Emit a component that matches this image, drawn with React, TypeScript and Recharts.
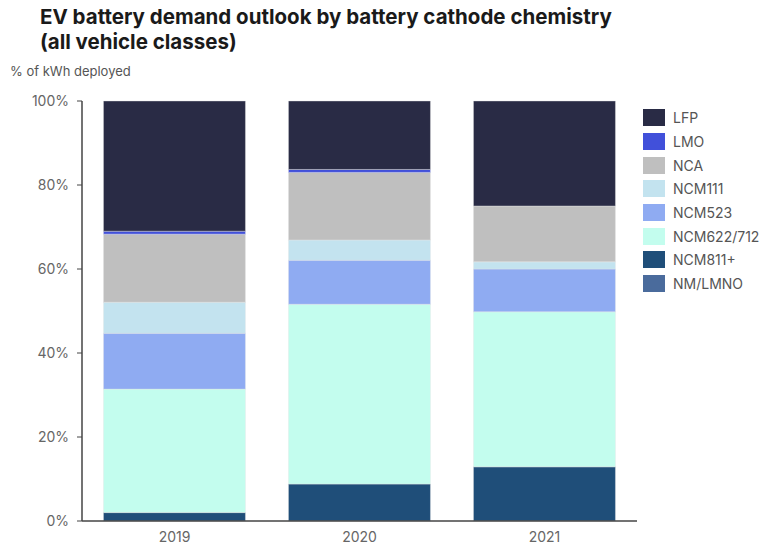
import React from 'react';
import { BarChart, Bar, XAxis, YAxis } from 'recharts';

const years = ['2019', '2020', '2021'];
const LFP = [31.0, 16.3, 25.0];
const LMO = [0.7, 0.7, 0];
const NCA = [16.2, 16.1, 13.3];
const NCM111 = [7.4, 4.8, 1.7];
const NCM523 = [13.3, 10.5, 10.2];
const NCM622 = [29.4, 42.8, 36.9];
const NCM811 = [2.0, 8.8, 12.9];
const NMLMNO = [0, 0, 0];
const yTicks = [0, 20, 40, 60, 80, 100];

const seriesOrder = [
  { key: 'NM/LMNO', values: NMLMNO, color: '#4A6B9C' },
  { key: 'NCM811+', values: NCM811, color: '#1F4E79' },
  { key: 'NCM622/712', values: NCM622, color: '#C3FDEE' },
  { key: 'NCM523', values: NCM523, color: '#8FABF2' },
  { key: 'NCM111', values: NCM111, color: '#C3E3EF' },
  { key: 'NCA', values: NCA, color: '#BFBFBF' },
  { key: 'LMO', values: LMO, color: '#4150DA' },
  { key: 'LFP', values: LFP, color: '#292B45' },
];

const data = years.map((y, i) => {
  const row: any = { year: y };
  seriesOrder.forEach((s) => (row[s.key] = s.values[i]));
  return row;
});

const FONT = 'Inter, "Open Sans", sans-serif';

const LegendBlock = () => {
  const items = [...seriesOrder].reverse();
  return (
    <div style={{ position: 'absolute', left: 643, top: 106, fontFamily: FONT }}>
      {items.map((s) => (
        <div key={s.key} style={{ display: 'flex', alignItems: 'center', height: 23.7 }}>
          <div style={{ width: 22, height: 17, background: s.color, marginRight: 8 }} />
          <span style={{ fontSize: 14, color: '#555' }}>{s.key}</span>
        </div>
      ))}
    </div>
  );
};

export default function App() {
  return (
    <div style={{ position: 'absolute', left: 0, top: 0, width: 774, height: 544, background: '#fff' }}>
      <BarChart
        width={774}
        height={544}
        data={data}
        margin={{ top: 101, right: 137, bottom: 0, left: 0 }}
        barCategoryGap="11.6%"
      >
        <XAxis
          dataKey="year"
          height={23}
          tickLine={false}
          axisLine={{ stroke: '#444', strokeWidth: 1.5 }}
          tick={{ fill: '#666', fontSize: 14, fontFamily: FONT }}
          tickMargin={5}
        />
        <YAxis
          width={82}
          domain={[0, 100]}
          ticks={yTicks}
          tickFormatter={(v) => `${v}%`}
          axisLine={{ stroke: '#444', strokeWidth: 1.5 }}
          tickLine={{ stroke: '#444' }}
          tickSize={5}
          tickMargin={8}
          tick={{ fill: '#666', fontSize: 14, fontFamily: FONT }}
          interval={0}
        />
        {seriesOrder.map((s) => (
          <Bar
            key={s.key}
            dataKey={s.key}
            stackId="a"
            fill={s.color}
            stroke="#e6e6e6"
            strokeWidth={0.4}
            isAnimationActive={false}
          />
        ))}
      </BarChart>
      <div style={{ position: 'absolute', left: 40, top: 4, fontFamily: FONT, fontWeight: 700, fontSize: 20.5, lineHeight: '25px', color: '#1a1a1a', whiteSpace: 'nowrap' }}>
        EV battery demand outlook by battery cathode chemistry
        <br />
        (all vehicle classes)
      </div>
      <div style={{ position: 'absolute', left: 10, top: 63, fontFamily: FONT, fontSize: 13, color: '#555' }}>
        % of kWh deployed
      </div>
      <LegendBlock />
    </div>
  );
}
